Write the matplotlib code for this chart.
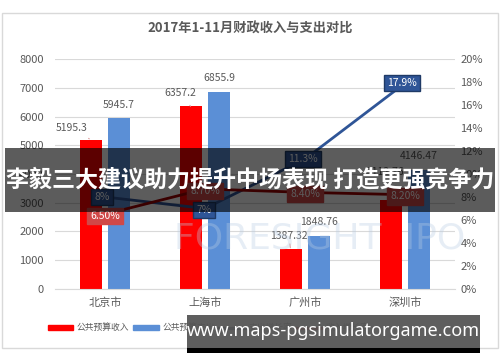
import matplotlib
matplotlib.use("Agg")
import matplotlib.pyplot as plt
import numpy as np
from matplotlib.patches import Rectangle, Patch
from matplotlib.lines import Line2D

plt.rcParams['font.family'] = ['Noto Sans CJK SC', 'DejaVu Sans']

cities = ['北京市', '上海市', '广州市', '深圳市']
income = [5195.3, 6357.2, 1387.32, 3112.76]
spend = [5945.7, 6855.9, 1848.76, 4146.47]
income_lbl = ['5195.3', '6357.2', '1387.32', '3112.76']
spend_lbl = ['5945.7', '6855.9', '1848.76', '4146.47']
spend_rate = [8.0, 7.0, 11.3, 17.9]
spend_rate_lbl = ['8%', '7%', '11.3%', '17.9%']
income_rate = [6.5, 8.7, 8.4, 8.2]
income_rate_lbl = ['6.50%', '8.70%', '8.40%', '8.20%']

gray = '#595959'
red = '#FF0000'
blue = '#5B8FD6'
navy = '#2F5597'
dred = '#A00000'

fig = plt.figure(figsize=(5, 3.62), dpi=100)
fig.patch.set_facecolor('white')
fig.patches.append(Rectangle((0.003, 0.04), 0.993, 0.925, transform=fig.transFigure,
                             fill=False, edgecolor='#D9D9D9', lw=1))

ax = fig.add_axes([0.11, 0.2017, 0.80, 0.6353])
x = np.arange(len(cities))
ax.bar(x - 0.145, income, 0.22, color=red, zorder=2)
ax.bar(x + 0.14, spend, 0.22, color=blue, zorder=2)
ax.set_xlim(-0.5, 3.5)
ax.set_ylim(0, 8000)
ax.set_yticks(range(0, 8001, 1000))
ax.grid(axis='y', color='#D9D9D9', lw=0.8, zorder=0)
ax.set_xticks(x)
ax.set_xticklabels(cities)
ax.tick_params(length=0, labelsize=8, colors=gray, pad=6)
ax.tick_params(axis='y', pad=8)
for s in ['top', 'left', 'right']:
    ax.spines[s].set_visible(False)
ax.spines['bottom'].set_color('#D9D9D9')

# bar labels
ioff = [(-0.185, 420), (-0.105, 450), (-0.015, 450), (-0.05, 950)]
for i in range(4):
    dx, dy = ioff[i]
    ax.annotate(income_lbl[i], (x[i] - 0.145, income[i]), (x[i] - 0.145 + dx, income[i] + dy),
                fontsize=7.5, color=gray, ha='center', va='center',
                arrowprops=dict(arrowstyle='-', color='#E0A0A0', lw=0.8, shrinkA=4, shrinkB=1),
                zorder=3)
    ax.text(x[i] + 0.14, spend[i] + 470, spend_lbl[i], fontsize=7.5, color=gray,
            ha='center', va='center', zorder=3)

ax2 = ax.twinx()
ax2.set_ylim(0, 20)
ax2.set_yticks(range(0, 21, 2))
ax2.set_yticklabels([f'{v}%' for v in range(0, 21, 2)])
ax2.tick_params(length=0, labelsize=8, colors=gray, pad=4)
for s in ax2.spines.values():
    s.set_visible(False)
ax2.plot(x, spend_rate, color=navy, lw=2.0, zorder=4)
ax2.plot(x, income_rate, color=dred, lw=2.0, zorder=4)
soff = [(-0.03, 0.0), (-0.01, -0.15), (-0.02, 0.0), (-0.03, 0.0)]
for i in range(4):
    ax2.text(x[i] + soff[i][0], spend_rate[i] + soff[i][1], spend_rate_lbl[i], fontsize=7.5,
             color='white', ha='center', va='center', zorder=5,
             bbox=dict(boxstyle='square,pad=0.3', fc=navy, ec='#1F3A66', lw=1))
for i in range(4):
    ax2.text(x[i], income_rate[i] - 0.15, income_rate_lbl[i], fontsize=7.5,
             color='white', ha='center', va='center', zorder=5,
             bbox=dict(boxstyle='square,pad=0.3', fc='#D04848', ec='#D04848', lw=1))

# watermark
fig.text(0.64, 0.34, 'FORESIGHT  IPO', fontsize=26, color='#B8CCE4', alpha=0.35,
         ha='center', va='center', family='DejaVu Sans', zorder=6)

fig.text(0.5, 0.92, '2017年1-11月财政收入与支出对比', fontsize=9.5, fontweight='bold',
         color=gray, ha='center', va='center')

handles = [Patch(color=red), Patch(color=blue),
           Line2D([], [], color='#1F3A66', lw=2.2), Line2D([], [], color=dred, lw=2.2)]
fig.legend(handles, ['公共预算收入', '公共预算支出', '支出增长率', '收入增长率'],
           loc='center', bbox_to_anchor=(0.417, 0.094), ncol=4, frameon=False,
           fontsize=6.3, labelcolor=gray, handlelength=2.9, handleheight=0.6,
           columnspacing=0.45, handletextpad=0.45)

# overlay banner
fig.patches.append(Rectangle((0.01, 0.414), 0.98, 0.177, transform=fig.transFigure,
                             facecolor='black', alpha=0.64, zorder=10))
fig.text(0.5, 0.503, '李毅三大建议助力提升中场表现 打造更强竞争力', fontsize=16.6,
         fontweight='bold', color='white', ha='center', va='center', zorder=11)

# url banner
fig.patches.append(Rectangle((0.374, 0.03), 0.586, 0.1, transform=fig.transFigure,
                             facecolor='#555555', alpha=0.95, zorder=10))
fig.patches.append(Rectangle((0.374, 0.025), 0.586, 0.015, transform=fig.transFigure,
                             facecolor='black', zorder=10))
fig.text(0.667, 0.085, 'www.maps-pgsimulatorgame.com', fontsize=13, fontweight='bold',
         color='white', ha='center', va='center', family=['Noto Sans', 'DejaVu Sans'], zorder=11)

fig.savefig('out.png', dpi=100)
